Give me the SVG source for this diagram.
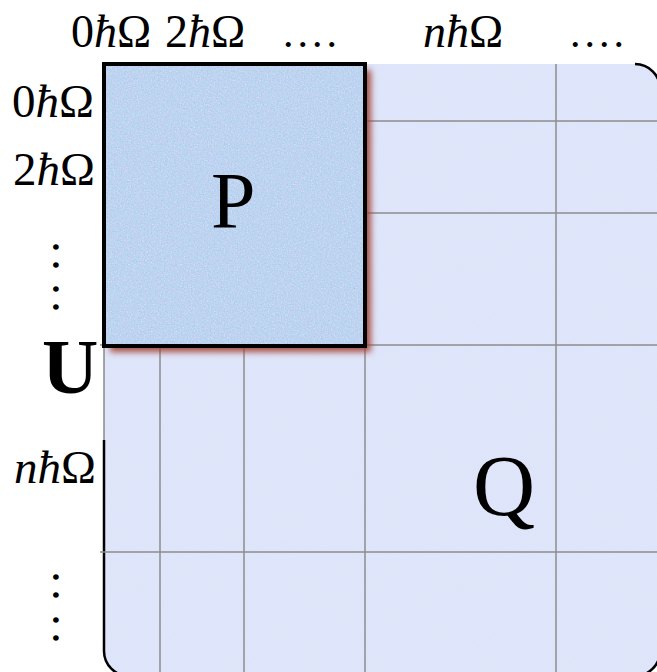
<svg xmlns="http://www.w3.org/2000/svg" width="657" height="672" viewBox="0 0 657 672">
<style>
.lbl{font-family:"Liberation Serif","Times New Roman",serif;fill:#000}
.grid{stroke:#8c8c8c;stroke-width:1.5;fill:none}
.edge{stroke:#000;stroke-width:2.5;fill:none}
</style>
<defs>
<filter id="noiseQ" x="0" y="0" width="1" height="1">
<feTurbulence type="fractalNoise" baseFrequency="0.8" numOctaves="2" seed="3" result="n"/>
<feColorMatrix in="n" type="matrix" values="0 0 0 0 0.86  0 0 0 0 0.88  0 0 0 0 0.98  0 0 0 0.25 0" result="c"/>
<feComposite in="c" in2="SourceGraphic" operator="in" result="t"/>
<feMerge><feMergeNode in="SourceGraphic"/><feMergeNode in="t"/></feMerge>
</filter>
<filter id="noiseP" x="0" y="0" width="1" height="1">
<feTurbulence type="fractalNoise" baseFrequency="0.7" numOctaves="3" seed="7" result="n"/>
<feColorMatrix in="n" type="matrix" values="1.6 0 0 0 -0.2  0 0.8 0 0 0.4  0 0 0.4 0 0.7  0 0 0 0.6 0" result="c"/>
<feComposite in="c" in2="SourceGraphic" operator="in" result="t"/>
<feMerge><feMergeNode in="SourceGraphic"/><feMergeNode in="t"/></feMerge>
</filter>
<filter id="shadow" x="-10%" y="-10%" width="130%" height="130%">
<feGaussianBlur stdDeviation="3"/>
</filter>
</defs>
<rect width="657" height="672" fill="#fff"/>

<g id="Q">
<rect x="104" y="64" width="556" height="612" rx="25" fill="#dde3f9" filter="url(#noiseQ)"/>
<path class="edge" d="M635 64 A25 25 0 0 1 660 89"/>
<path class="edge" d="M104 440 L104 651 A25 25 0 0 0 129 676"/>
<path class="edge" d="M635 676 A25 25 0 0 0 660 651"/>
<line x1="104" y1="346" x2="104" y2="440" stroke="#888" stroke-width="1.5"/>
</g>

<g id="grid">
<line class="grid" x1="160" y1="346" x2="160" y2="672"/>
<line class="grid" x1="244" y1="346" x2="244" y2="672"/>
<line class="grid" x1="365" y1="64" x2="365" y2="672"/>
<line class="grid" x1="556" y1="64" x2="556" y2="672"/>
<line class="grid" x1="365" y1="121" x2="657" y2="121"/>
<line class="grid" x1="365" y1="213" x2="657" y2="213"/>
<line class="grid" x1="100" y1="345" x2="657" y2="345"/>
<line class="grid" x1="100" y1="552" x2="657" y2="552"/>
</g>

<g id="P">
<rect x="110" y="70" width="261" height="282" fill="#a04030" opacity="0.9" filter="url(#shadow)"/>
<rect x="104" y="64" width="261" height="282" fill="#b8cbef" filter="url(#noiseP)"/>
<rect x="104" y="64" width="261" height="282" fill="none" stroke="#000" stroke-width="4"/>
<text class="lbl" x="211" y="228" font-size="80">P</text>
</g>

<g id="Qlabel">
<text class="lbl" x="473" y="515" font-size="86">Q</text>
</g>

<g id="top-labels">
<text class="lbl" x="71" y="47" font-size="46">0<tspan font-style="italic">ħ</tspan>Ω</text>
<text class="lbl" x="165" y="47" font-size="46">2<tspan font-style="italic">ħ</tspan>Ω</text>
<text class="lbl" x="283" y="47" font-size="42" letter-spacing="4">....</text>
<text class="lbl" x="423" y="47" font-size="46"><tspan font-style="italic">nħ</tspan>Ω</text>
<text class="lbl" x="570" y="47" font-size="42" letter-spacing="4">....</text>
</g>

<g id="left-labels">
<text class="lbl" x="12" y="117" font-size="47">0<tspan font-style="italic">ħ</tspan>Ω</text>
<text class="lbl" x="13" y="185" font-size="47">2<tspan font-style="italic">ħ</tspan>Ω</text>
<text class="lbl" font-size="48" transform="translate(53,241) rotate(90)" x="0" y="0" dx="0 6 12 6">....</text>
<text class="lbl" x="42" y="393" font-size="78" font-weight="bold">U</text>
<text class="lbl" x="14" y="483" font-size="47"><tspan font-style="italic">nħ</tspan>Ω</text>
<text class="lbl" font-size="48" transform="translate(53,571) rotate(90)" x="0" y="0" dx="0 6 13 6">....</text>
</g>
</svg>
